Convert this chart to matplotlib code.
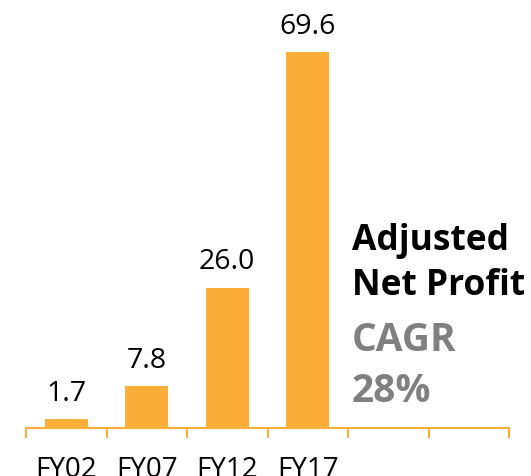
import numpy as np
import matplotlib.pyplot as plt

plt.rcParams['font.family'] = ['Open Sans', 'DejaVu Sans']

# Adjusted net profit by fiscal year; last two slots of the axis are empty
years = ['FY02', 'FY07', 'FY12', 'FY17', '', '']
profit = [1.7, 7.8, 26.0, 69.6]
labels = ['1.7', '7.8', '26.0', '69.6']

orange = '#FBAF3A'
grey = '#808080'

fig = plt.figure(figsize=(5.31, 4.76), dpi=100)
ax = fig.add_axes([0.049, 0.1008, 0.9096, 0.899])

x = np.arange(len(profit))
bars = ax.bar(x, profit, width=0.53, color=orange)
for b, lab in zip(bars, labels):
    ax.annotate(lab, (b.get_x() + b.get_width() / 2, b.get_height()),
                xytext=(0, 13), textcoords='offset points',
                ha='center', va='baseline', fontsize=20.5, color='black')

ax.set_xlim(-0.5, len(years) - 0.5)
ax.set_ylim(0, 79.2)

# labels in the middle of each slot, tick marks on the slot edges
ax.set_xticks(np.arange(len(years)))
ax.set_xticklabels(years, fontsize=20)
ax.tick_params(axis='x', which='major', length=0, pad=20)
ax.set_xticks(np.arange(len(years) + 1) - 0.5, minor=True)
ax.tick_params(axis='x', which='minor', length=7.5, width=1.5, color=orange)

for s in ['top', 'right', 'left']:
    ax.spines[s].set_visible(False)
ax.spines['bottom'].set_color(orange)
ax.spines['bottom'].set_linewidth(1.5)
ax.set_yticks([])
ax.patch.set_alpha(0)

fig.text(0.663, 0.4748, 'Adjusted', fontsize=25.5, fontweight='bold', color='black')
fig.text(0.663, 0.3803, 'Net Profit', fontsize=25.5, fontweight='bold', color='black')
fig.text(0.663, 0.2626, 'CAGR', fontsize=28, fontweight='bold', color=grey)
fig.text(0.663, 0.1555, '28%', fontsize=28, fontweight='bold', color=grey)

plt.savefig('out.png', dpi=100)
